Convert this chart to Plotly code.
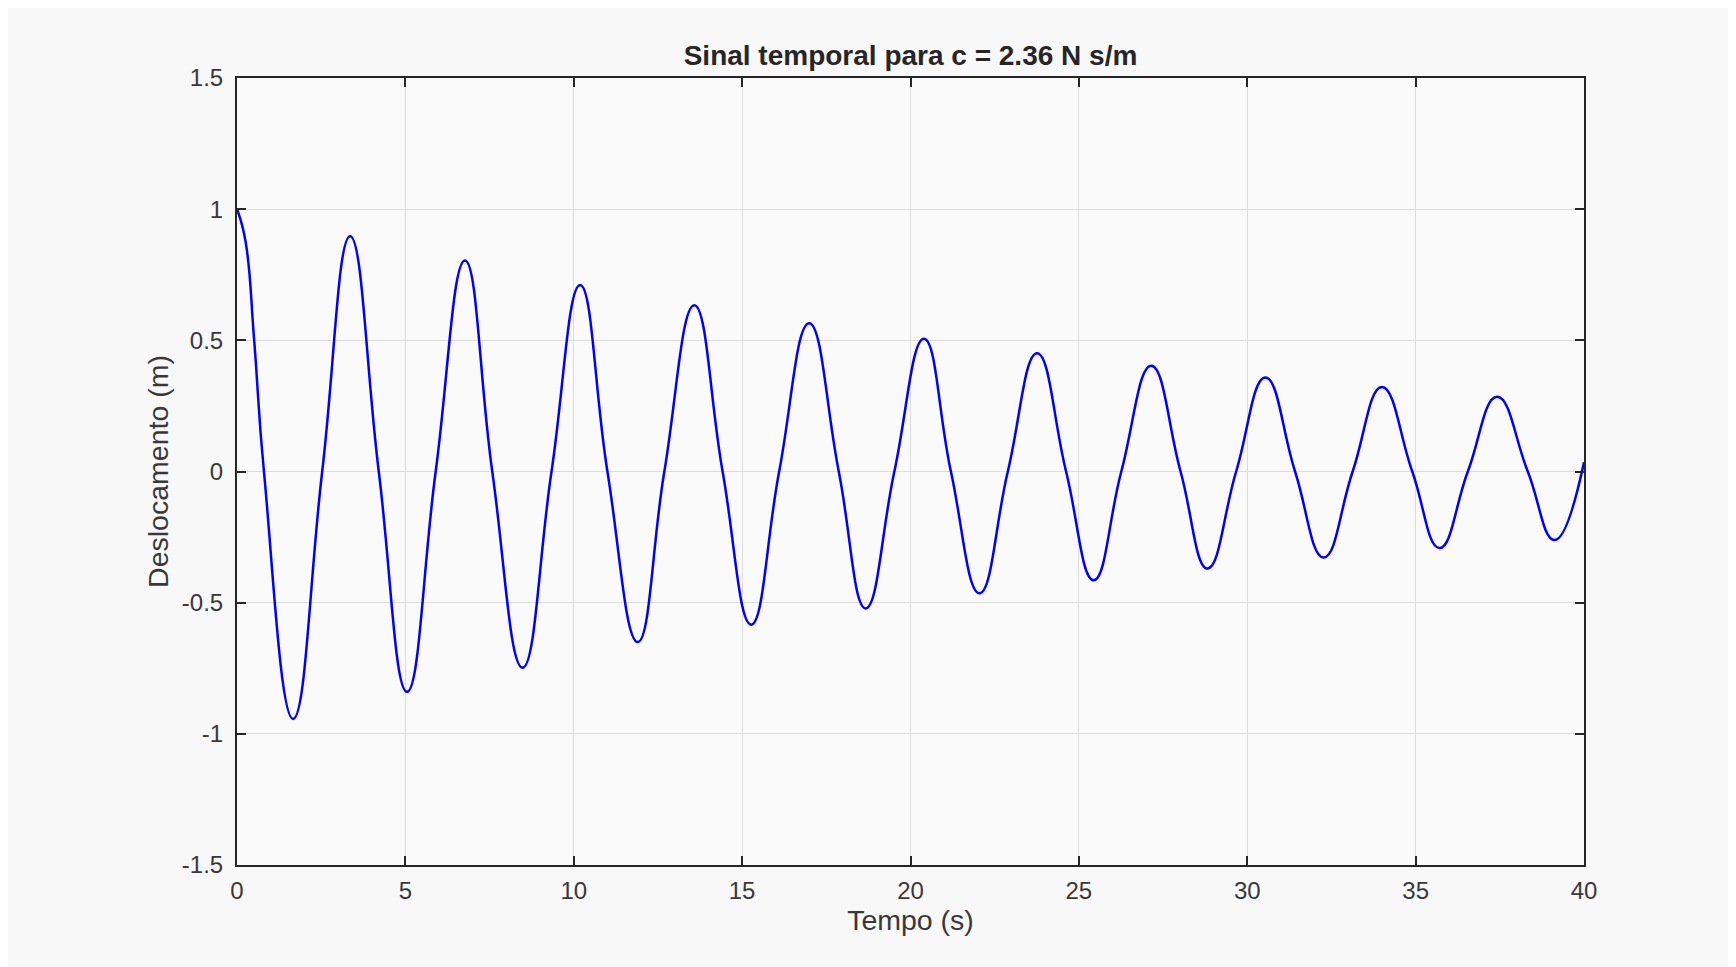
import plotly.graph_objects as go

# Points: extrema, zero crossings and a few points on the first drop
tempo = [0.0, 0.25, 0.51, 0.80, 1.665, 2.53, 3.36, 4.21, 5.05, 5.90, 6.77, 7.58, 8.48, 9.34, 10.19,
         11.0, 11.90, 12.69, 13.58, 14.42, 15.27, 16.10, 16.99, 17.87, 18.67, 19.52, 20.40,
         21.20, 22.05, 22.89, 23.76, 24.62, 25.44, 26.26, 27.15, 28.02, 28.82, 29.67, 30.54,
         31.42, 32.27, 33.13, 34.0, 34.90, 35.71, 36.55, 37.42, 38.33, 39.13, 40.0]
deslocamento = [1.0, 0.88, 0.5, 0.0, -0.943, 0.0, 0.897, 0.0, -0.840, 0.0, 0.804, 0.0, -0.748, 0.0, 0.711,
                0.0, -0.650, 0.0, 0.634, 0.0, -0.584, 0.0, 0.565, 0.0, -0.522, 0.0, 0.506,
                0.0, -0.464, 0.0, 0.451, 0.0, -0.415, 0.0, 0.403, 0.0, -0.370, 0.0, 0.358,
                0.0, -0.328, 0.0, 0.322, 0.0, -0.292, 0.0, 0.285, 0.0, -0.261, 0.035]

x_ticks = [0, 5, 10, 15, 20, 25, 30, 35, 40]
y_ticks = [-1.5, -1, -0.5, 0, 0.5, 1, 1.5]
y_tick_labels = ["-1.5", "-1", "-0.5", "0", "0.5", "1", "1.5"]

fig = go.Figure()
fig.add_trace(go.Scatter(
    x=tempo, y=deslocamento, mode="lines",
    line=dict(color="#0000ff", width=2.5, shape="spline", smoothing=1.3),
    showlegend=False, hoverinfo="skip"))

font_family = "Liberation Sans, Arial, sans-serif"
axis_common = dict(
    showline=True, linecolor="#262626", linewidth=2, mirror="ticks",
    ticks="inside", ticklen=9, tickwidth=1.5, tickcolor="#262626",
    showgrid=True, gridcolor="#dcdcdc", gridwidth=1,
    zeroline=False,
    tickfont=dict(family=font_family, size=24, color="#383838"),
)

fig.update_layout(
    width=1736, height=967, autosize=False,
    paper_bgcolor="#f8f8f8", plot_bgcolor="#fafafa",
    margin=dict(l=229, r=160, t=70, b=110),
    title=dict(text="<b>Sinal temporal para c = 2.36 N s/m</b>",
               x=0.5, xref="paper", xanchor="center",
               y=1 - 47 / 967, yref="container", yanchor="middle",
               font=dict(family=font_family, size=28, color="#262626")),
    xaxis=dict(range=[0, 40], tickvals=x_ticks, ticktext=[str(v) for v in x_ticks],
               ticklabelstandoff=3,
               title=dict(text="Tempo (s)", standoff=7,
                          font=dict(family=font_family, size=28.5, color="#383838")),
               **axis_common),
    yaxis=dict(range=[-1.5, 1.5], tickvals=y_ticks, ticktext=y_tick_labels,
               ticklabelstandoff=7,
               title=dict(text="Deslocamento (m)", standoff=5,
                          font=dict(family=font_family, size=28.5, color="#383838")),
               **axis_common),
)

fig.write_html("out.html")
